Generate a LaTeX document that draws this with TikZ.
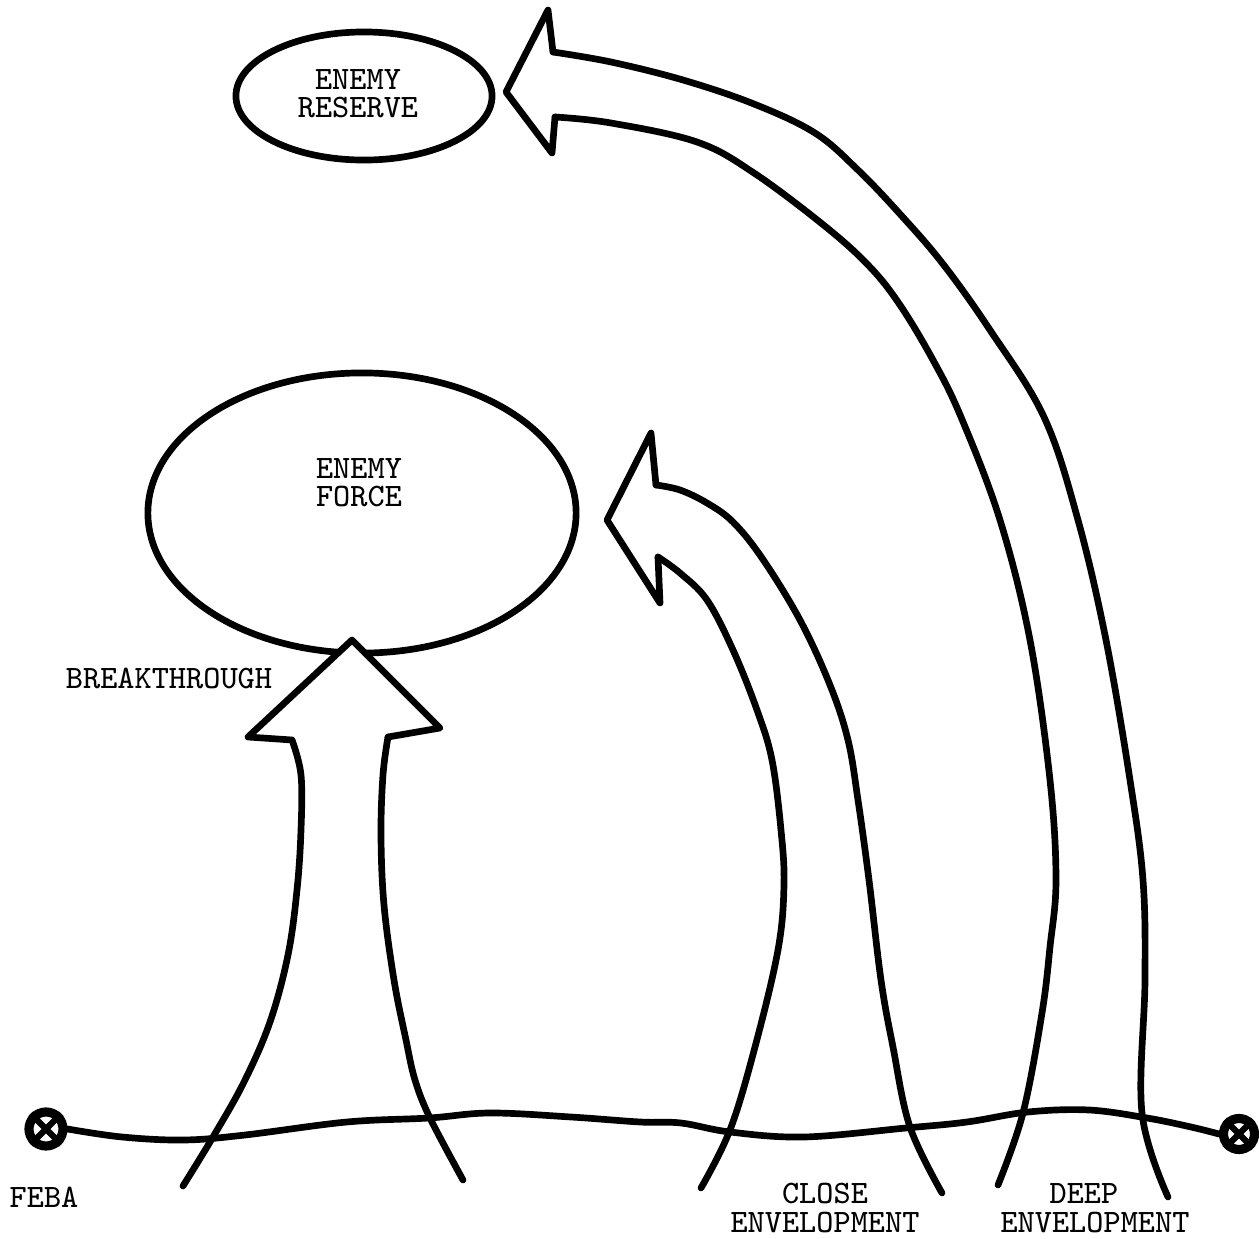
\documentclass[tikz,border=0pt]{standalone}
\usetikzlibrary{shapes.geometric}
\begin{document}
\begin{tikzpicture}[x=0.01cm,y=-0.01cm,
  ink/.style={line width=1.9pt, line join=round, line cap=round},
  blob/.style={ellipse, draw, line width=1.9pt, inner sep=0pt},
  lbl/.style={font=\ttfamily\fontsize{9.3}{8}\selectfont, align=center, inner sep=0pt},
  botlbl/.style={font=\ttfamily\fontsize{9.3}{8.2}\selectfont, align=center, inner sep=0pt},
  febasym/.style={circle, draw, line width=2.6pt, inner sep=0pt},
  febax/.style={line width=1.8pt}
]
\useasboundingbox[fill=white] (0,0) rectangle (1259,1239);

% enemy formations
\node[blob, minimum width=4.28cm, minimum height=2.80cm] (force) at (362,513) {};
\node[blob, minimum width=2.56cm, minimum height=1.28cm] (reserve) at (364,96) {};
\node[lbl] (forcetxt) at (359,483) {ENEMY\\FORCE};
\node[lbl] (reservetxt) at (358,94) {ENEMY\\RESERVE};

% breakthrough arrow
\fill[white] (292,740) -- (248,737) -- (352,640) -- (440,728) -- (388,737) -- (383,770) -- (302,770) -- cycle;
\draw[ink] (292,740) -- (248,737) -- (352,640) -- (440,728) -- (388,737);
\draw[ink] plot[smooth, tension=0.6] coordinates {(292,740) (301,775) (301,830) (297,890) (288,955) (270,1022) (244,1082) (213,1137) (183,1186)};
\draw[ink] plot[smooth, tension=0.6] coordinates {(388,737) (383,775) (381,835) (384,905) (394,980) (406,1040) (415,1080) (430,1118) (463,1180)};

% close envelopment arrow
\draw[ink] (656,485) -- (651,433) -- (607,520) -- (660,603) -- (658,557);
\draw[ink] plot[smooth, tension=0.6] coordinates {(656,485) (680,490) (707,503) (733,522) (762,558) (800,620) (830,685) (848,740) (858,800) (869,880) (881,980) (893,1047) (910,1127) (942,1193)};
\draw[ink] plot[smooth, tension=0.6] coordinates {(658,557) (680,573) (707,600) (733,650) (757,710) (772,760) (781,830) (784,885) (778,950) (755,1047) (730,1130) (701,1188)};

% deep envelopment arrow
\draw[ink] (553,52) -- (548,10) -- (506,92) -- (552,153) -- (555,117);
\draw[ink] plot[smooth, tension=0.6] coordinates {(553,52) (611,62) (683,80) (754,104) (815,133) (858,170) (900,214) (943,264) (990,330) (1044,417) (1078,520) (1106,640) (1130,780) (1143,880) (1145,980) (1142,1113) (1168,1197)};
\draw[ink] plot[smooth, tension=0.6] coordinates {(555,117) (611,123) (697,142) (754,173) (826,227) (870,267) (900,305) (933,360) (961,417) (1000,520) (1030,640) (1050,780) (1056,880) (1050,947) (1042,1013) (1023,1113) (998,1185)};

% FEBA line
\node[febasym, minimum size=0.34cm] (febaL) at (46,1129) {};
\node[febasym, minimum size=0.31cm] (febaR) at (1239,1134) {};
\draw[febax] (febaL.north east) -- (febaL.south west) (febaL.north west) -- (febaL.south east);
\draw[febax] (febaR.north east) -- (febaR.south west) (febaR.north west) -- (febaR.south east);
\draw[ink] plot[smooth, tension=0.6] coordinates {(febaL.east) (122,1137) (184,1140) (245,1135) (347,1122) (429,1118) (490,1113) (571,1117) (640,1122) (681,1123) (730,1132) (804,1137) (906,1128) (967,1122) (1028,1112) (1089,1110) (1147,1118) (1191,1127) (febaR.west)};

% labels
\node[lbl] (breaklbl) at (169,678) {BREAKTHROUGH};
\node[lbl] (febalbl) at (44,1197) {FEBA};
\node[botlbl] (closelbl) at (825,1208) {CLOSE\\ENVELOPMENT};
\node[botlbl] (deeplbl) at (1095,1208) {DEEP\hspace*{0.22cm}\\ENVELOPMENT};
\end{tikzpicture}
\end{document}
